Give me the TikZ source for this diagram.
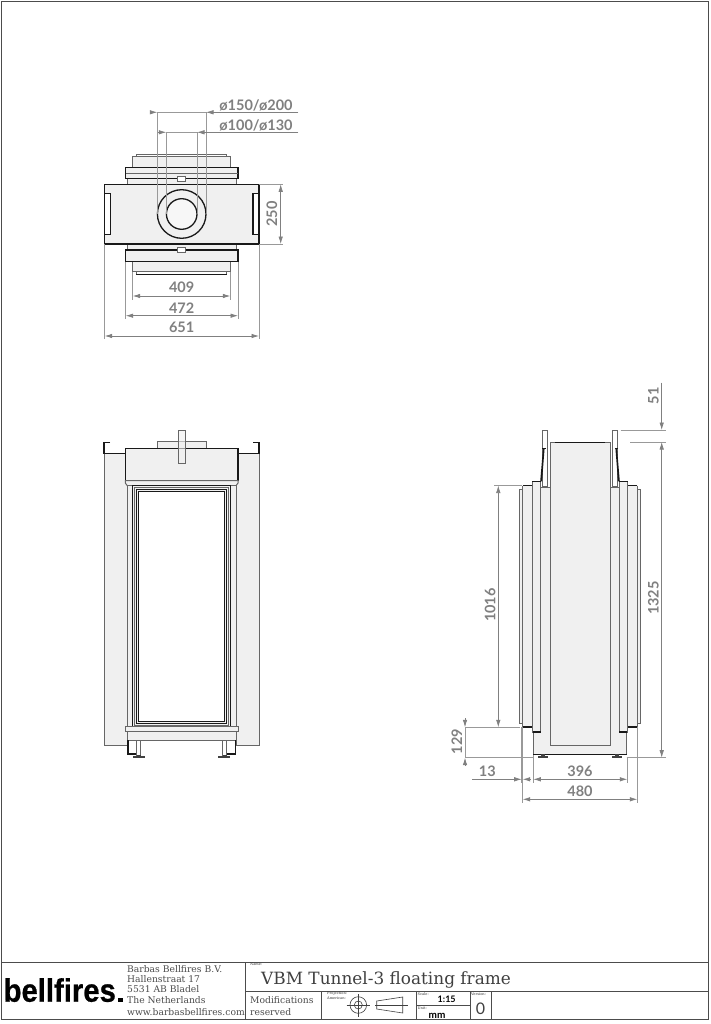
\documentclass[tikz,border=0pt]{standalone}
\usepackage{fontspec}
\setmainfont{DejaVu Serif}
\newfontfamily\dimfont{Lato}
\newfontfamily\logofont[FakeBold=0.7]{Liberation Sans Bold}
\usetikzlibrary{arrows.meta, positioning}
\definecolor{dimgray}{gray}{0.5}
\definecolor{panelfill}{gray}{0.94}
\tikzset{
    dark/.style={draw=black!90, line width=1.1pt},
    soft/.style={draw=black!60, line width=1pt},
    panel/.style={soft, fill=panelfill},
    darkpanel/.style={dark, fill=panelfill},
    extline/.style={draw=dimgray!80, line width=0.7pt},
    dimline/.style={draw=dimgray, line width=0.7pt, {Latex[length=7.5pt,width=4.5pt]}-{Latex[length=7.5pt,width=4.5pt]}},
    dimtip/.style={draw=dimgray, line width=0.7pt, -{Latex[length=7.5pt,width=4.5pt]}},
    dimtext/.style={text=dimgray, inner sep=0pt, font=\dimfont\bfseries\fontsize{14.5}{14.5}\selectfont},
    smalltext/.style={anchor=west, inner sep=0pt, text=black!80, font=\fontsize{3.6}{4}\selectfont},
    addrtext/.style={anchor=west, inner sep=0pt, text=black!70, font=\fontsize{9.2}{10}\selectfont},
    boxline/.style={draw=black!70, line width=0.9pt}
}
\begin{document}
\begin{tikzpicture}[x=1pt, y=-1pt]
    \useasboundingbox (0,0) rectangle (710,1024);
    \fill[white] (0,0) rectangle (710,1024);

    % top view
    \draw[soft, fill=white] (136.3,154.3) rectangle (226.7,157);
    \draw[panel] (132.7,157) rectangle (230.3,167.3);
    \draw[panel] (127.7,174) rectangle (236,184.3);
    \draw[darkpanel] (125.7,167.3) rectangle (238,178.3);
    \draw[soft] (125.7,174) -- (238,174);
    \draw[soft, fill=white] (136.3,271.7) rectangle (226.7,274.3);
    \draw[dark] (136.3,274.3) -- (226.7,274.3);
    \draw[panel] (132.7,261.7) rectangle (230.3,271.7);
    \draw[panel] (127.7,244) rectangle (236,250);
    \draw[darkpanel] (125.7,250) rectangle (238,261.7);
    \draw[darkpanel] (104.7,184.3) rectangle (259,244);
    \draw[dark, fill=white] (110.7,193.3) -- (104.7,193.3) -- (104.7,234.3) -- (110.7,234.3) -- cycle;
    \draw[dark, fill=white] (253,193.3) -- (259,193.3) -- (259,234.3) -- (253,234.3) -- cycle;
    \draw[soft, fill=white] (177.7,176.7) rectangle (185.7,181.3);
    \draw[soft, fill=white] (177.7,247) rectangle (185.7,252);
    \draw[dark, line width=1.3pt, fill=panelfill] (181.7,214) circle[radius=24.3];
    \draw[dark, line width=1.3pt, fill=panelfill!50] (181.7,214) circle[radius=15.3];

    % top view dimensions
    \foreach \xa/\ya in {157.3/214, 206/214} {
        \draw[extline] (\xa,112.3) -- (\xa,\ya);
    }
    \foreach \xa/\ya in {166.3/214, 197/214} {
        \draw[extline] (\xa,132.3) -- (\xa,\ya);
    }
    \draw[dimtip] (151,112.3) -- (157.3,112.3);
    \draw[dimtip] (298.3,112.3) -- (206,112.3);
    \draw[extline] (157.3,112.3) -- (206,112.3);
    \draw[dimtip] (158.3,132.3) -- (166.3,132.3);
    \draw[dimtip] (298.3,132.3) -- (197,132.3);
    \draw[extline] (166.3,132.3) -- (197,132.3);
    \node[dimtext] (pipeouter) at (256,105) {ø150/ø200};
    \node[dimtext] (pipeinner) at (256,125) {ø100/ø130};
    \draw[extline] (259,184.3) -- (283,184.3);
    \draw[extline] (259,244) -- (283,244);
    \draw[dimline] (280.7,184.3) -- (280.7,244);
    \node[dimtext, rotate=90] (depth) at (272,214) {250};
    \draw[extline] (132.7,272) -- (132.7,300);
    \draw[extline] (230.3,272) -- (230.3,300);
    \draw[dimline] (132.7,296) -- (230.3,296);
    \node[dimtext] (flangein) at (181.7,287.7) {409};
    \draw[extline] (125.7,262) -- (125.7,319);
    \draw[extline] (238,262) -- (238,319);
    \draw[dimline] (125.7,315.7) -- (238,315.7);
    \node[dimtext] (flangeout) at (181.7,308) {472};
    \draw[extline] (104.7,244) -- (104.7,339);
    \draw[extline] (259,244) -- (259,339);
    \draw[dimline] (104.7,336) -- (259,336);
    \node[dimtext] (totalwidth) at (181.7,327.7) {651};

    % front view
    \draw[panel] (104,453.3) rectangle (127.3,745.7);
    \draw[panel] (236,453.3) rectangle (259,745.7);
    \draw[dark] (110,442.7) -- (104,442.7) -- (104,453.3) -- (125.3,453.3);
    \draw[dark] (253.3,442.7) -- (259,442.7) -- (259,453.3) -- (238,453.3);
    \draw[panel] (157.3,441.7) rectangle (206,448.3);
    \draw[darkpanel] (125.3,448.3) rectangle (238,480.7);
    \draw[panel] (125.3,480.7) -- (238,480.7) -- (238,483) -- (236,485.7) -- (127.3,485.7) -- (125.3,483) -- cycle;
    \draw[panel] (127.3,485.7) rectangle (236,727);
    \draw[dark, fill=panelfill] (132.7,485.7) rectangle (230.7,727);
    \draw[soft, fill=panelfill] (134.5,487.7) rectangle (228.9,725);
    \draw[dark, fill=panelfill] (136.7,489.7) rectangle (226.7,723.3);
    \draw[dark, fill=white] (138.7,491.7) rectangle (224.7,721.3);
    \draw[soft, fill=panelfill, fill opacity=0.6] (178,430) rectangle (185.3,463.3);
    \draw[panel] (125.3,726.7) rectangle (238,731.7);
    \draw[panel] (127.3,731.7) rectangle (236,740.3);
    \foreach \sgn in {-1,1} {
        \begin{scope}[shift={(181.7,0)}, xscale=\sgn]
            \draw[dark] (-53.7,740.3) -- (-53.7,754) -- (-45,754);
            \draw[soft, fill=white] (-45,740.3) rectangle (-41,755);
            \fill[black!75] (-48.4,756.3) rectangle (-36.7,758);
            \fill[black!75] (-45,754.5) rectangle (-41,757);
        \end{scope}
    }

    % side view
    \draw[panel] (533.3,727) rectangle (626.7,754.3);
    \draw[dark] (533.3,754.3) -- (626.7,754.3);
    \foreach \sgn in {-1,1} {
        \begin{scope}[shift={(580,0)}, xscale=\sgn]
            \draw[panel] (-60.7,489.3) rectangle (-57.3,723.3);
            \fill[panelfill] (-57.3,486.2) rectangle (-47.7,726.5);
            \draw[soft] (-57.3,727) -- (-57.3,485.7);
            \draw[dark] (-57.3,485.7) -- (-47.7,485.7);
            \draw[dark] (-57.3,727) -- (-46.7,727);
            \draw[soft, fill=panelfill] (-47.7,481.3) rectangle (-39.3,732);
            \draw[dark] (-47.7,481.3) -- (-39.3,481.3);
            \draw[dark] (-46.7,732) -- (-39.3,732);
            \fill[panelfill] (-39.3,487.3) rectangle (-30,745);
            \draw[soft] (-39.3,487.3) -- (-30,487.3);
            \draw[soft, fill=white] (-37.7,430) rectangle (-32.7,486);
            \fill[black!90] (-39.8,481.3) -- (-37,448.3) -- (-35.4,448.3) -- (-38,481.3) -- cycle;
            \draw[dark] (-38,448.3) -- (-34.5,448.3);
            \fill[black!75] (-42.3,756) rectangle (-31.7,757.7);
            \fill[black!75] (-39,754.3) rectangle (-35,757);
        \end{scope}
    }
    \draw[panel] (550,442.7) rectangle (610,745.7);
    \draw[dark] (555,442.3) -- (605,442.3);

    % side view dimensions
    \draw[extline] (620.7,430) -- (665.7,430);
    \draw[extline] (630,442) -- (665.7,442);
    \draw[dimtip] (661.7,382.7) -- (661.7,430);
    \node[dimtext, rotate=90] (headroom) at (653.3,395.7) {51};
    \draw[dimline] (661.7,442) -- (661.7,757.7);
    \node[dimtext, rotate=90] (totalheight) at (653.3,598) {1325};
    \draw[extline] (626.7,757.7) -- (665.7,757.7);
    \draw[extline] (494,485.5) -- (522,485.5);
    \draw[dimline] (498.3,485.5) -- (498.3,727.3);
    \node[dimtext, rotate=90] (doorheight) at (490,605) {1016};
    \draw[extline] (465,727.3) -- (520,727.3);
    \draw[extline] (465,757.7) -- (533.3,757.7);
    \draw[dimtip] (465,718) -- (465,727.3);
    \draw[dimtip] (465,766) -- (465,757.7);
    \draw[extline] (465,727.3) -- (465,757.7);
    \node[dimtext, rotate=90] (baseheight) at (456.7,741.7) {129};
    \draw[extline] (521.7,727) -- (521.7,783);
    \draw[extline] (522.7,727) -- (522.7,803);
    \draw[extline] (533.3,755) -- (533.3,783);
    \draw[extline] (627.3,758) -- (627.3,783);
    \draw[extline] (637.3,727) -- (637.3,803);
    \draw[dimtip] (472.3,779.3) -- (521.7,779.3);
    \draw[dimtip] (530.7,779.3) -- (522.7,779.3);
    \node[dimtext] (overhang) at (487.3,771) {13};
    \draw[dimline] (533.3,779.3) -- (627.3,779.3);
    \node[dimtext] (basewidth) at (580,771) {396};
    \draw[dimline] (522.7,799.3) -- (637.3,799.3);
    \node[dimtext] (sidewidth) at (580,791) {480};

    % title block
    \draw[boxline] (1,1) rectangle (708.7,1019.3);
    \draw[boxline] (1,962.3) -- (708.7,962.3);
    \draw[boxline] (245,962.3) -- (245,1019.3);
    \draw[boxline] (245,991) -- (708.7,991);
    \draw[boxline] (321.7,991) -- (321.7,1019.3);
    \draw[boxline] (416,991) -- (416,1019.3);
    \draw[boxline] (470,991) -- (470,1019.3);
    \draw[boxline] (491,991) -- (491,1019.3);
    \draw[boxline] (416,1005.7) -- (470,1005.7);

    \node[anchor=base west, inner sep=0pt, font=\logofont\fontsize{32.5}{33}\selectfont, xscale=0.9] (logo) at (3.5,1001.7) {bellfires};
    \fill (118,997.5) rectangle (122.5,1002);
    \node[addrtext] (addr1) at (127,969) {Barbas Bellfires B.V.};
    \node[addrtext] (addr2) at (127,979.3) {Hallenstraat 17};
    \node[addrtext] (addr3) at (127,989.5) {5531 AB Bladel};
    \node[addrtext] (addr4) at (127,1000) {The Netherlands};
    \node[addrtext] (addr5) at (127,1012) {www.barbasbellfires.com};

    \node[smalltext] (namelabel) at (250,964.5) {Name:};
    \node[anchor=base west, inner sep=0pt, text=black!75, font=\fontsize{16.9}{17}\selectfont] (title) at (261,984.5) {VBM Tunnel-3 floating frame};
    \node[addrtext] (mod1) at (250,1000.5) {Modifications};
    \node[addrtext] (mod2) at (250,1012) {reserved};
    \node[smalltext] (projlabel) at (327,994) {Projection:};
    \node[smalltext] (amerlabel) at (327,998.5) {American:};
    \node[smalltext] (scalelabel) at (417.5,994) {Scale:};
    \node[smalltext] (unitlabel) at (417.5,1008) {Unit:};
    \node[smalltext] (verlabel) at (471,994) {Version:};
    \node[inner sep=0pt, font=\dimfont\bfseries\fontsize{9}{9}\selectfont] (scaleval) at (446.7,999) {1:15};
    \node[inner sep=0pt, font=\dimfont\bfseries\fontsize{10}{10}\selectfont] (unitval) at (437,1015.5) {mm};
    \node[inner sep=0pt, text=black!75, font=\dimfont\fontsize{16}{16}\selectfont] (verval) at (480.5,1008.5) {0};

    % projection symbol
    \draw[black!75, line width=0.6pt] (358.3,1005) circle[radius=8.3];
    \draw[black!75, line width=0.6pt] (358.3,1005) circle[radius=4];
    \draw[black!75, line width=0.5pt] (358.3,994.3) -- (358.3,1016.7);
    \draw[black!75, line width=0.5pt] (346.7,1005) -- (370,1005);
    \draw[black!75, line width=0.6pt] (376.7,1001) -- (402.7,997) -- (402.7,1013) -- (376.7,1009) -- cycle;
    \draw[black!75, line width=0.5pt] (375,1005) -- (407.7,1005);
\end{tikzpicture}
\end{document}
